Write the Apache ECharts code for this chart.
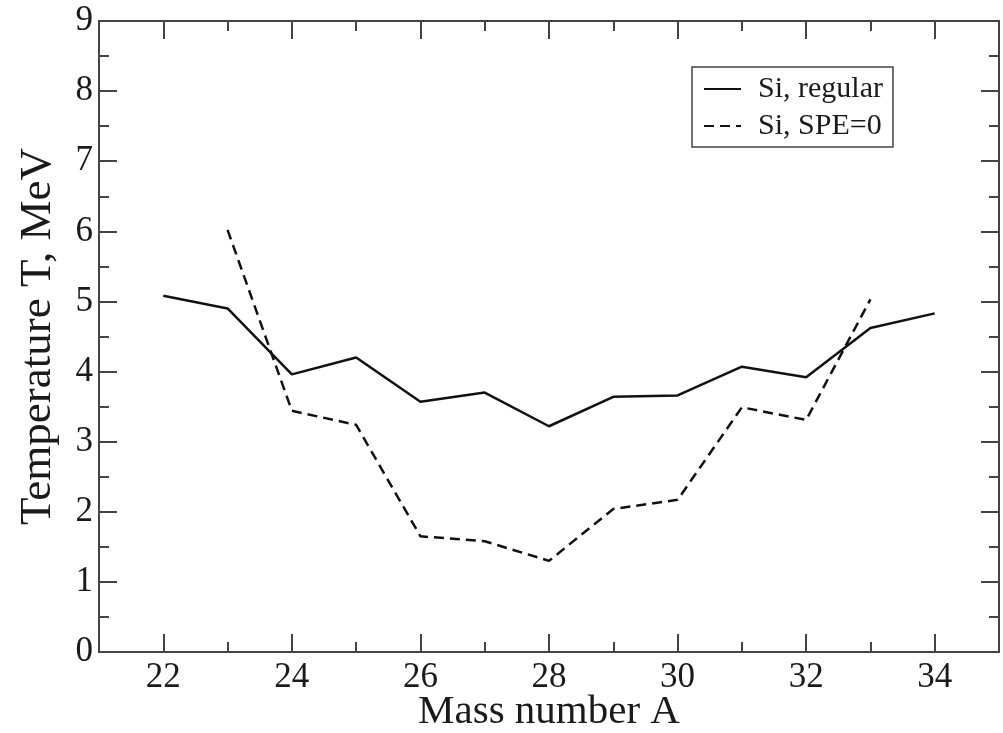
<!DOCTYPE html>
<html>
<head>
<meta charset="utf-8">
<script src="https://cdn.jsdelivr.net/npm/echarts@6/dist/echarts.min.js"></script>
<style>html,body{margin:0;padding:0;background:#fff;}#c{width:1003px;height:733px;}</style>
</head>
<body>
<div id="c"></div>
<script>
// Data
const massRegular = [22, 23, 24, 25, 26, 27, 28, 29, 30, 31, 32, 33, 34];
const tempRegular = [5.08, 4.90, 3.96, 4.20, 3.57, 3.70, 3.22, 3.64, 3.66, 4.07, 3.92, 4.62, 4.83];
const massSPE0 = [23, 24, 25, 26, 27, 28, 29, 30, 31, 32, 33];
const tempSPE0 = [6.02, 3.44, 3.24, 1.65, 1.58, 1.30, 2.04, 2.17, 3.49, 3.31, 5.03];
const xMajorTicks = [22, 24, 26, 28, 30, 32, 34];
const xMinorTicks = [23, 25, 27, 29, 31, 33];
const seriesNames = ['Si, regular', 'Si, SPE=0'];

const FONT = "'Liberation Serif', 'DejaVu Serif', serif";
const AX = '#444';
const TXT = '#1a1a1a';

const chart = echarts.init(document.getElementById('c'), null, {renderer: 'canvas'});

function xAxisDef(pos, ticks, len, labels, name) {
  return {
    type: 'value', position: pos, min: 21, max: 35,
    axisLine: {show: true, onZero: false, lineStyle: {color: AX, width: 2}},
    axisTick: {show: true, inside: true, length: len, customValues: ticks, lineStyle: {color: AX, width: 2}},
    axisLabel: labels ? {show: true, customValues: ticks, margin: 8, fontSize: 35, fontFamily: FONT, color: TXT} : {show: false},
    splitLine: {show: false},
    name: name || '', nameLocation: 'middle', nameGap: 40, nameMoveOverlap: false,
    nameTextStyle: {fontSize: 41, fontFamily: FONT, color: TXT}
  };
}
function yAxisDef(pos, labels, name) {
  return {
    type: 'value', position: pos, min: 0, max: 9, interval: 1,
    axisLine: {show: true, onZero: false, lineStyle: {color: AX, width: 2}},
    axisTick: {show: true, inside: true, length: 18, lineStyle: {color: AX, width: 2}},
    minorTick: {show: true, splitNumber: 2, length: 10, lineStyle: {color: AX, width: 2}},
    axisLabel: labels ? {show: true, margin: 6, fontSize: 35, fontFamily: FONT, color: TXT} : {show: false},
    splitLine: {show: false}, minorSplitLine: {show: false},
    name: name || '', nameLocation: 'middle', nameGap: 38, nameRotate: 90, nameMoveOverlap: false,
    nameTextStyle: {fontSize: 45, fontFamily: FONT, color: TXT}
  };
}

const option = {
  backgroundColor: '#fff',
  animation: false,
  grid: {left: 99, top: 21, right: 4, bottom: 81, show: false, containLabel: false, outerBoundsMode: 'none'},
  legend: {
    show: true, orient: 'vertical', left: 692, top: 67,
    data: seriesNames,
    itemWidth: 37, itemHeight: 14, itemGap: 7,
    padding: [7, 10, 6, 11],
    borderColor: '#444', borderWidth: 1.5,
    itemStyle: {opacity: 0, borderWidth: 0},
    textStyle: {fontSize: 30, fontFamily: FONT, color: TXT, padding: [0, 0, 0, 12], lineHeight: 30}
  },
  xAxis: [
    xAxisDef('bottom', xMajorTicks, 18, true, 'Mass number A'),
    xAxisDef('bottom', xMinorTicks, 10, false),
    xAxisDef('top', xMajorTicks, 18, false),
    xAxisDef('top', xMinorTicks, 10, false)
  ],
  yAxis: [
    yAxisDef('left', true, 'Temperature T, MeV'),
    yAxisDef('right', false)
  ],
  series: [
    {
      name: seriesNames[0], type: 'line', xAxisIndex: 0, yAxisIndex: 0,
      data: massRegular.map((m, i) => [m, tempRegular[i]]),
      symbol: 'none', showSymbol: false,
      lineStyle: {color: '#111', width: 2.5, type: 'solid'},
      itemStyle: {color: '#111'}
    },
    {
      name: seriesNames[1], type: 'line', xAxisIndex: 0, yAxisIndex: 0,
      data: massSPE0.map((m, i) => [m, tempSPE0[i]]),
      symbol: 'none', showSymbol: false,
      lineStyle: {color: '#111', width: 2.5, type: [10, 6]},
      itemStyle: {color: '#111'}
    }
  ]
};
chart.setOption(option);
</script>
</body>
</html>
